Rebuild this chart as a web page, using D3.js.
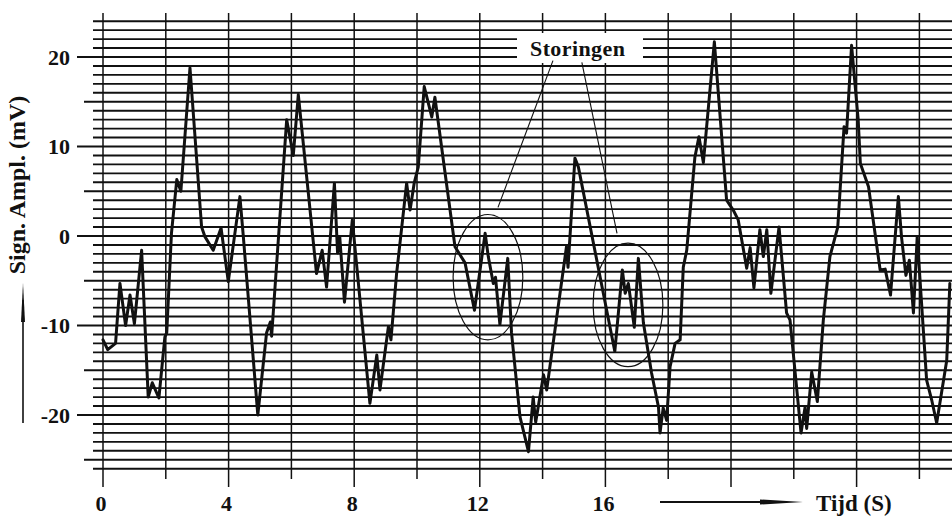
<!DOCTYPE html>
<html>
<head>
<meta charset="utf-8">
<script src="https://cdn.jsdelivr.net/npm/d3@7/dist/d3.min.js"></script>
<style>
  html, body { margin: 0; padding: 0; background: #fff; }
  svg { display: block; }
  text { font-family: "Liberation Serif", "DejaVu Serif", serif; fill: #111; }
</style>
</head>
<body>
<svg id="chart" width="952" height="517"></svg>
<script>
// ---- data (time in s, amplitude in mV) ----
const time = [0.00,0.15,0.40,0.54,0.72,0.86,1.00,1.23,1.44,1.57,1.78,1.97,2.03,2.18,2.35,2.48,2.77,3.14,3.25,3.51,3.76,3.99,
  4.36,4.47,4.93,5.21,5.33,5.37,5.85,6.06,6.22,6.80,6.98,7.12,7.37,7.47,7.54,7.69,7.94,8.50,8.72,8.82,9.09,9.17,9.35,9.67,9.78,9.91,10.04,
  10.23,10.47,10.57,11.21,11.53,11.83,12.17,12.27,12.43,12.50,12.64,12.89,13.01,13.28,13.55,13.70,13.78,14.03,14.13,14.76,14.81,15.03,15.14,
  16.30,16.54,16.63,16.73,16.79,16.92,17.05,17.21,17.47,17.69,17.74,17.84,17.95,18.06,18.22,18.38,18.48,18.59,18.85,18.98,19.12,19.47,
  19.86,20.07,20.23,20.50,20.61,20.73,20.92,21.03,21.14,21.27,21.53,21.60,21.77,21.88,22.23,22.36,22.41,22.57,22.75,22.94,23.15,23.40,
  23.60,23.68,23.84,24.05,24.12,24.38,24.75,24.91,25.08,25.33,25.43,25.57,25.68,25.81,25.93,26.23,26.39,26.55,26.87,26.97];
const amplitude = [-11.6,-12.7,-12.0,-5.3,-10.0,-6.6,-9.8,-1.6,-18.0,-16.4,-18.1,-11.3,-10.8,0.3,6.3,5.0,18.8,1.0,-0.1,-1.6,0.9,-5.1,
  4.4,-0.1,-20.0,-10.8,-9.6,-11.2,13.0,9.0,15.8,-4.2,-1.6,-5.7,5.9,-1.9,-0.1,-7.4,1.8,-18.7,-13.3,-17.2,-10.1,-11.6,-4.2,5.9,2.9,5.9,7.7,
  16.7,13.3,15.5,-1.2,-3.0,-8.3,0.3,-2.3,-5.3,-4.6,-9.9,-2.5,-10.8,-20.2,-24.1,-18.0,-20.8,-15.5,-17.2,-1.2,-3.5,8.7,7.7,
  -12.9,-3.8,-6.4,-5.3,-6.8,-10.2,-2.5,-9.7,-15.3,-19.1,-22.0,-19.2,-20.6,-14.6,-12.0,-11.6,-3.5,-1.6,8.8,11.1,8.2,21.7,
  4.0,2.9,1.8,-3.6,-1.3,-5.8,0.7,-2.3,0.7,-6.4,1.0,-1.8,-8.6,-9.4,-22.0,-19.1,-21.5,-15.2,-18.5,-9.4,-2.3,1.0,
  12.2,11.5,21.3,13.0,8.1,5.5,-3.8,-3.7,-6.6,4.4,-0.1,-4.4,-2.7,-8.6,-0.1,-16.1,-18.3,-20.9,-13.9,-5.3];

const xTickLabels = [0, 4, 8, 12, 16];
const yTickLabels = [20, 10, 0, -10, -20];
const xGridValues = d3.range(0, 27, 2);      // vertical grid every 2 s
const yGridValues = d3.range(-26, 25, 1);    // horizontal grid every 1 mV

// annotation: disturbances
const annotLabel = "Storingen";
const ellipseT = [12.26, 16.72];
const ellipseV = [-4.6, -7.7];
const ellipseRT = [1.11, 1.11];
const ellipseRV = [7.0, 6.9];
const leaderFromT = [14.33, 15.25];
const leaderFromV = [19.6, 19.4];
const leaderToT = [12.58, 16.37];
const leaderToV = [3.2, 0.3];

// ---- scales ----
const svg = d3.select("#chart");
const x = d3.scaleLinear().domain([0, 28]).range([103, 103 + 28 * 31.4]);
const y = d3.scaleLinear().domain([-26, 24]).range([236 + 26 * 8.95, 236 - 24 * 8.95]);
const rightEdge = 952;

svg.append("defs").append("clipPath").attr("id", "clip")
  .append("rect").attr("x", 0).attr("y", 0).attr("width", rightEdge).attr("height", 517);

const g = svg.append("g").attr("clip-path", "url(#clip)");

// horizontal grid lines
g.selectAll("line.h").data(yGridValues).join("line")
  .attr("class", "h")
  .attr("x1", d => d % 10 === 0 ? 77 : (d % 5 === 0 ? 84 : 93))
  .attr("x2", rightEdge)
  .attr("y1", d => y(d)).attr("y2", d => y(d))
  .attr("stroke", "#111").attr("stroke-width", 1.9);

// vertical grid lines
g.selectAll("line.v").data(xGridValues).join("line")
  .attr("class", "v")
  .attr("x1", d => x(d)).attr("x2", d => x(d))
  .attr("y1", 13)
  .attr("y2", d => d % 4 === 0 ? 487 : 479)
  .attr("stroke", "#111").attr("stroke-width", 1.5);

// white box behind annotation label
g.append("rect").attr("x", 517).attr("y", 33).attr("width", 126).attr("height", 30).attr("fill", "#fff");

// signal
const pts = time.map((t, i) => [t, amplitude[i]]);
g.append("path").datum(pts)
  .attr("fill", "none").attr("stroke", "#111").attr("stroke-width", 3)
  .attr("stroke-linejoin", "round").attr("stroke-linecap", "round")
  .attr("d", d3.line().x(d => x(d[0])).y(d => y(d[1])));

// ellipses
ellipseT.forEach((t, i) => {
  g.append("ellipse")
    .attr("cx", x(t)).attr("cy", y(ellipseV[i]))
    .attr("rx", x(t + ellipseRT[i]) - x(t))
    .attr("ry", y(ellipseV[i] - ellipseRV[i]) - y(ellipseV[i]))
    .attr("fill", "none").attr("stroke", "#111").attr("stroke-width", 1.2);
});
// leader lines
leaderFromT.forEach((t, i) => {
  g.append("line")
    .attr("x1", x(t)).attr("y1", y(leaderFromV[i]))
    .attr("x2", x(leaderToT[i])).attr("y2", y(leaderToV[i]))
    .attr("stroke", "#111").attr("stroke-width", 1.1);
});
g.append("text").attr("x", 530).attr("y", 56)
  .attr("font-size", 22).attr("font-weight", "bold").attr("letter-spacing", 0.4)
  .text(annotLabel);

// tick labels
svg.selectAll("text.xl").data(xTickLabels).join("text")
  .attr("class", "xl")
  .attr("x", d => x(d) - 2).attr("y", 511)
  .attr("text-anchor", "middle").attr("font-size", 22).attr("font-weight", "bold")
  .text(d => d);
svg.selectAll("text.yl").data(yTickLabels).join("text")
  .attr("class", "yl")
  .attr("x", 70).attr("y", d => y(d)).attr("dy", "0.35em")
  .attr("text-anchor", "end").attr("font-size", 22).attr("font-weight", "bold")
  .text(d => d);

// axis titles with arrows
svg.append("text")
  .attr("transform", "translate(25,185) rotate(-90)")
  .attr("text-anchor", "middle").attr("font-size", 24).attr("font-weight", "bold")
  .text("Sign. Ampl. (mV)");
svg.append("line").attr("x1", 23).attr("x2", 23).attr("y1", 300).attr("y2", 423)
  .attr("stroke", "#111").attr("stroke-width", 1.6);
svg.append("path").attr("d", "M23,283 L25,322 L21,322 Z").attr("fill", "#111");

svg.append("line").attr("x1", 660).attr("x2", 785).attr("y1", 502).attr("y2", 502)
  .attr("stroke", "#111").attr("stroke-width", 1.8);
svg.append("path").attr("d", "M803,502 L760,499.5 L760,504.5 Z").attr("fill", "#111");
svg.append("text").attr("x", 816).attr("y", 511)
  .attr("font-size", 23).attr("font-weight", "bold").text("Tijd (S)");
</script>
</body>
</html>
